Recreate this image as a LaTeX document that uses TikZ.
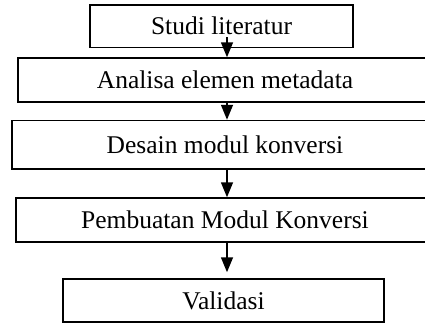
\documentclass[tikz,border=0pt]{standalone}
\usepackage{fontspec}
\setmainfont{Liberation Serif}
\usetikzlibrary{arrows.meta}
\begin{document}
\begin{tikzpicture}[x=1pt,y=-1pt,
  stepbox/.style={draw=black, line width=1.5pt, rectangle, inner sep=0pt,
    font=\fontsize{25.5}{30}\selectfont},
  arr/.style={draw=black, line width=1.5pt, -{Triangle[width=12pt,length=15pt]}}]
\useasboundingbox (0,0) rectangle (425,324);
\node[stepbox, minimum width=263pt, minimum height=42.5pt] (s1) at (221.5,26.25) {Studi literatur};
\node[stepbox, minimum width=414pt, minimum height=44pt] (s2) at (225,80) {Analisa elemen metadata};
\node[stepbox, minimum width=426pt, minimum height=48.5pt] (s3) at (225,144.75) {Desain modul konversi};
\node[stepbox, minimum width=418pt, minimum height=44pt] (s4) at (225,220) {Pembuatan Modul Konversi};
\node[stepbox, minimum width=321pt, minimum height=43pt] (s5) at (223.5,300.5) {Validasi};
\coordinate (ax) at (227,37);
\draw[arr] (ax) -- (s2.north -| ax);
\draw[arr] (s2.south -| ax) -- (s3.north -| ax);
\draw[arr] (s3.south -| ax) -- (s4.north -| ax);
\draw[arr, shorten >=6pt] (s4.south -| ax) -- (s5.north -| ax);
\end{tikzpicture}
\end{document}
